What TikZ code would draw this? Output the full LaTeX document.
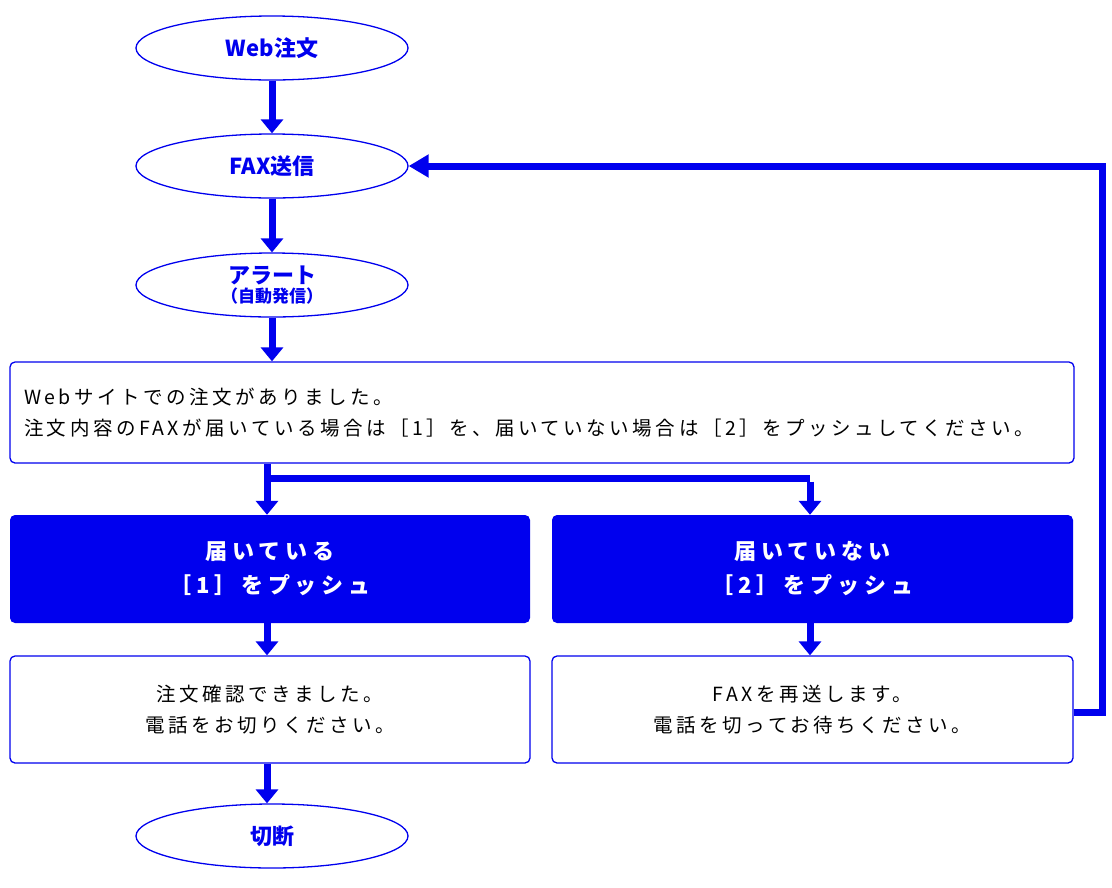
\documentclass[tikz,border=0pt]{standalone}
\usepackage{fontspec}
\setmainfont{Noto Sans CJK JP}
\newfontfamily\spaced[LetterSpace=18]{Noto Sans CJK JP}
\newfontfamily\spacedb[LetterSpace=22]{Noto Sans CJK JP}
\usetikzlibrary{shapes.geometric,arrows.meta}
\definecolor{fb}{HTML}{0000EE}
\begin{document}
\begin{tikzpicture}[x=1pt,y=-1pt,
 ell/.style={ellipse,draw=fb,line width=1.3pt,minimum width=272pt,minimum height=64pt,text=fb,font=\fontsize{22}{24}\selectfont\bfseries,align=center,inner sep=0pt},
 wbox/.style={draw=fb,line width=1.3pt,rounded corners=5pt,fill=white,align=center,font=\spaced\fontsize{19.5}{31}\selectfont,inner sep=0pt},
 bbox/.style={fill=fb,rounded corners=5pt,text=white,align=center,font=\spacedb\fontsize{22}{34}\selectfont\bfseries,inner sep=0pt},
 arr/.style={draw=fb,line width=7pt,-{Triangle[length=14pt,width=22pt]}},
 ln/.style={draw=fb,line width=7pt}]
\useasboundingbox (0,0) rectangle (1112,887);
\node[ell] (web) at (272,48) {Web注文};
\node[ell] (fax) at (272,166) {FAX送信};
\node[ell] (al) at (272,285) {アラート\\[-5pt]{\fontsize{17}{19}\selectfont（自動発信）}};
\node[wbox,minimum width=1064pt,minimum height=101pt,align=left,text width=1036pt] (msg) at (542,412.5) {Webサイトでの注文がありました。\\注文内容のFAXが届いている場合は［1］を、届いていない場合は［2］をプッシュしてください。};
\node[bbox,minimum width=520pt,minimum height=108pt] (b1) at (270,569) {届いている\\［1］をプッシュ};
\node[bbox,minimum width=521pt,minimum height=108pt] (b2) at (812.5,569) {届いていない\\［2］をプッシュ};
\node[wbox,minimum width=520pt,minimum height=107pt] (w1) at (270,709.5) {注文確認できました。\\電話をお切りください。};
\node[wbox,minimum width=521pt,minimum height=107pt] (w2) at (812.5,709.5) {FAXを再送します。\\電話を切ってお待ちください。};
\node[ell] (cut) at (272,836) {切断};
\draw[arr] (web) -- (fax);
\draw[arr] (fax) -- (al);
\draw[arr] (al) -- (al.south |- msg.north);
\draw[arr] (msg.south -| b1.north) ++(-3,0) coordinate (s) -- (s |- b1.north);
\coordinate (h1) at (267,478);
\coordinate (h2) at (810,478);
\draw[ln] (h1) -- (h2);
\draw[arr] ([yshift=-3.5pt]h2) -- (h2 |- b2.north);
\draw[arr] (s |- b1.south) -- (s |- w1.north);
\draw[arr] (s |- w1.south) -- (s |- cut.north);
\draw[arr] (h2 |- b2.south) -- (h2 |- w2.north);
\coordinate (r1) at (1102,712);
\coordinate (r2) at (1102,166);
\draw[draw=fb,line width=7pt,-{Triangle[length=20pt,width=22pt]}] (w2.east |- r1) -- (r1) -- (r2) -- (fax.east);
\end{tikzpicture}
\end{document}
